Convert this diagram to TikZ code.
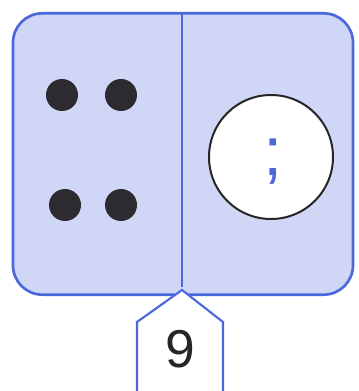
\documentclass[tikz,border=0pt]{standalone}
\usepackage{fontspec}
\setmainfont{Liberation Sans}
\usetikzlibrary{positioning}
\definecolor{dominoblue}{RGB}{75,105,218}
\definecolor{dominofill}{RGB}{208,214,246}
\definecolor{pipgray}{RGB}{45,42,48}
\tikzset{
  pip/.style={circle, fill=pipgray, minimum size=24pt, inner sep=0pt},
  halfbox/.style={draw=dominoblue, line width=2pt, fill=dominofill},
}
\begin{document}
\begin{tikzpicture}[x=0.75pt, y=-0.75pt]
      \useasboundingbox (0,0) rectangle (358,391);
      % domino
      \node[halfbox, rounded corners=22pt, minimum width=255pt, minimum height=211pt,
            inner sep=0pt] (domino) at (183,154) {};
      \coordinate (divtop) at (182,13);
      \coordinate (divbot) at (182,287);
      \draw[dominoblue, line width=2pt] (divtop) -- (divbot);
      % pips
      \node[pip] (pipA) at (62,95) {};
      \node[pip] (pipB) at (121,95) {};
      \node[pip] (pipC) at (65,205) {};
      \node[pip] (pipD) at (121,205) {};
      % missing half
      \node[circle, draw=black!85, line width=1.5pt, fill=white, minimum size=93pt,
            inner sep=0pt] (blank) at (271,157) {};
      \node[text=dominoblue, font=\fontsize{52}{52}\selectfont, inner sep=0pt]
            (mark) at (273,162) {;};
      % tag with total
      \draw[halfbox, fill=white, line width=1.6pt]
        (137,395) -- (137,322) -- (182,290) -- (223,322) -- (223,395) -- cycle;
      \node[font=\fontsize{40}{44}\selectfont, text=black!85] (total) at (180,349) {9};
\end{tikzpicture}
\end{document}
